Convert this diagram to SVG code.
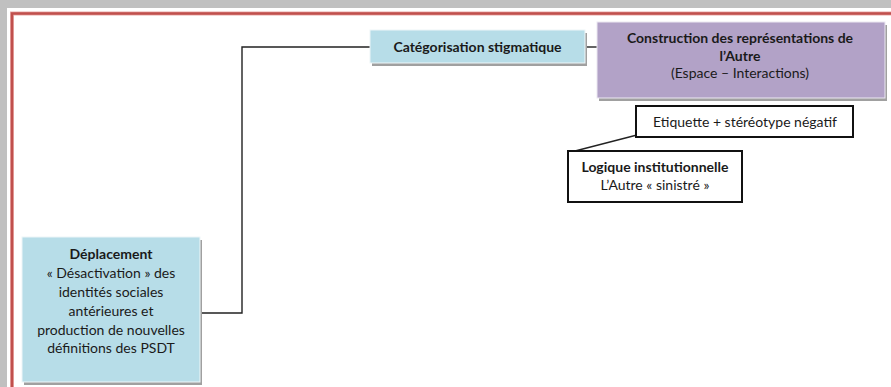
<svg xmlns="http://www.w3.org/2000/svg" width="891" height="387" viewBox="0 0 891 387">
<style>
text{font-family:Lato,"Open Sans","Liberation Sans",sans-serif;fill:#1a1a1a;text-anchor:middle}
.b{font-weight:bold}
.t13{font-size:14px}
.shadow{fill:#a0a0a0}
.blue{fill:#b7dde8;stroke:#eef6f8;stroke-width:1}
.purple{fill:#b2a2c7;stroke:#ece8f2;stroke-width:1}
.box{fill:#fff;stroke:#111;stroke-width:2}
.conn{fill:none;stroke:#222;stroke-width:1.4}
</style>
<rect x="0" y="0" width="891" height="387" fill="#fff"/>
<rect x="0" y="0" width="891" height="8" fill="#c0c0c0"/>
<rect x="0" y="0" width="7" height="387" fill="#c0c0c0"/>
<path d="M12 387 V13.5 H891" fill="none" stroke="#e9a9a7" stroke-width="4"/>
<path d="M12 387 V13.5 H891" fill="none" stroke="#c0504d" stroke-width="2.4"/>
<g id="connectors">
<path class="conn" d="M200 313 H242 V47 H370"/>
<path class="conn" d="M586 47 H597"/>
<path class="conn" d="M637 135 L575 151"/>
</g>
<g id="categorisation">
<rect class="shadow" x="372" y="33" width="215" height="33"/>
<rect class="blue" x="370" y="30" width="215" height="33"/>
<text class="b t13" x="477.5" y="51.5">Catégorisation stigmatique</text>
</g>
<g id="construction">
<rect class="shadow" x="599" y="25" width="288" height="76"/>
<rect class="purple" x="597" y="22" width="288" height="76"/>
<text class="b t13" x="740" y="43">Construction des représentations de</text>
<text class="b t13" x="740" y="61">l’Autre</text>
<text class="t13" x="740" y="78">(Espace – Interactions)</text>
</g>
<g id="etiquette">
<rect class="box" x="636" y="106" width="217" height="31"/>
<text class="t13" x="745" y="126.5">Etiquette + stéréotype négatif</text>
</g>
<g id="logique">
<rect class="box" x="568" y="151" width="174" height="51"/>
<text class="b t13" x="655" y="172">Logique institutionnelle</text>
<text class="t13" x="655" y="190">L’Autre « sinistré »</text>
</g>
<g id="deplacement">
<rect class="shadow" x="24" y="240" width="178" height="145"/>
<rect class="blue" x="22" y="237" width="178" height="145"/>
<text class="b t13" x="111" y="259">Déplacement</text>
<text class="t13" x="111" y="278">« Désactivation » des</text>
<text class="t13" x="111" y="297">identités sociales</text>
<text class="t13" x="111" y="316">antérieures et</text>
<text class="t13" x="111" y="335">production de nouvelles</text>
<text class="t13" x="111" y="353">définitions des PSDT</text>
</g>
</svg>
